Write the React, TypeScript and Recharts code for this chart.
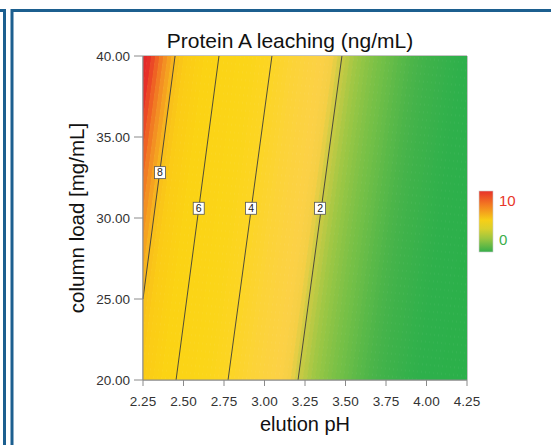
import React from 'react';
import {
  ComposedChart,
  XAxis,
  YAxis,
  ReferenceArea,
  ReferenceLine,
  ReferenceDot,
} from 'recharts';

// ---------- data ----------
const phDomain = [2.25, 4.25];
const loadDomain = [20, 40];
const phTicks = [2.25, 2.5, 2.75, 3.0, 3.25, 3.5, 3.75, 4.0, 4.25];
const loadTicks = [20, 25, 30, 35, 40];

// iso-bands of the response surface: every band leans by isoTilt pH per mg/mL
const isoTilt = 0.01325;
const profileStartPH = 2.0; // pH where the first band meets load = 20
const profileStepPH = 0.025;
// leaching (ng/mL) along load = 20 at pH = 2.000, 2.025, ... 4.250
const leachProfile = [
  11.0, 10.6, 9.9, 9.35, 8.9, 8.55, 8.3, 8.08, 7.9, 7.7,
  7.5, 7.3, 7.1, 6.9, 6.72, 6.55, 6.35, 6.18, 6.02, 5.87,
  5.7, 5.55, 5.4, 5.25, 5.1, 4.95, 4.8, 4.65, 4.5, 4.35,
  4.2, 4.03, 3.9, 3.76, 3.64, 3.52, 3.4, 3.29, 3.18, 3.07,
  2.97, 2.87, 2.77, 2.67, 2.57, 2.47, 2.35, 2.2, 2.05, 1.92,
  1.8, 1.68, 1.57, 1.47, 1.37, 1.28, 1.19, 1.1, 1.02, 0.95,
  0.88, 0.82, 0.76, 0.7, 0.65, 0.6, 0.55, 0.51, 0.47, 0.43,
  0.39, 0.36, 0.33, 0.3, 0.27, 0.24, 0.21, 0.19, 0.17, 0.15,
  0.13, 0.11, 0.09, 0.08, 0.06, 0.05, 0.04, 0.03, 0.02, 0.01,
  0.0,
];

const contourLevels = [8, 6, 4, 2];
const contourStartPH = [2.25, 2.454, 2.775, 3.207];
const contourStartLoad = [25, 20, 20, 20];
const contourEndPH = [2.448, 2.719, 3.046, 3.478];
const contourEndLoad = [40, 40, 40, 40];
const contourLabelPH = [2.355, 2.594, 2.917, 3.343];
const contourLabelLoad = [32.8, 30.6, 30.6, 30.6];

const legendMax = 10;
const legendMin = 0;

// ---------- colour scale (style) ----------
const colorStops: [number, string][] = [
  [0, '#2bb04a'],
  [0.15, '#2eb04b'],
  [0.47, '#45b34a'],
  [0.9, '#6dbe47'],
  [1.55, '#9fc744'],
  [2.0, '#cdcb44'],
  [2.3, '#f3cf45'],
  [2.6, '#fcd146'],
  [3.2, '#fcd33a'],
  [4.0, '#fcd524'],
  [5.0, '#fbd518'],
  [6.5, '#fbd314'],
  [7.5, '#fbcb16'],
  [7.9, '#f9c11a'],
  [8.15, '#f6ad1f'],
  [8.6, '#f38c23'],
  [9.3, '#ef6424'],
  [10.0, '#ea4426'],
  [10.8, '#e4292a'],
];

function hexToRgb(h: string) {
  return [parseInt(h.slice(1, 3), 16), parseInt(h.slice(3, 5), 16), parseInt(h.slice(5, 7), 16)];
}

function leachColor(v: number) {
  if (v <= colorStops[0][0]) return colorStops[0][1];
  for (let i = 1; i < colorStops.length; i++) {
    if (v <= colorStops[i][0]) {
      const [v0, c0] = colorStops[i - 1];
      const [v1, c1] = colorStops[i];
      const t = (v - v0) / (v1 - v0);
      const a = hexToRgb(c0);
      const b = hexToRgb(c1);
      const c = a.map((x, j) => Math.round(x + (b[j] - x) * t));
      return `rgb(${c[0]},${c[1]},${c[2]})`;
    }
  }
  return colorStops[colorStops.length - 1][1];
}

// band segments run slightly past the plot (clipped) so ends are clean
const bandLoadLo = loadDomain[0] - 1;
const bandLoadHi = loadDomain[1] + 1;
const bands = leachProfile.map((v, k) => {
  const ph20 = profileStartPH + k * profileStepPH;
  return {
    a: { x: ph20 + isoTilt * (bandLoadLo - loadDomain[0]), y: bandLoadLo },
    b: { x: ph20 + isoTilt * (bandLoadHi - loadDomain[0]), y: bandLoadHi },
    color: leachColor(v),
  };
});

const FONT = '"Liberation Sans", Arial, Helvetica, sans-serif';
const AXIS_GRAY = '#8a8a8a';

const legendStops = [
  { off: 0, c: '#e8312a' },
  { off: 0.23, c: '#f37c21' },
  { off: 0.48, c: '#f6cf17' },
  { off: 0.62, c: '#d9d02c' },
  { off: 0.78, c: '#9cc63f' },
  { off: 1, c: '#35ae4a' },
];

export default function App() {
  return (
    <div
      style={{
        position: 'absolute',
        left: 0,
        top: 0,
        width: 551,
        height: 445,
        background: '#fff',
        fontFamily: FONT,
        overflow: 'hidden',
      }}
    >
      <ComposedChart
        width={551}
        height={445}
        data={[]}
        margin={{ top: 56, right: 84, bottom: 35, left: 83 }}
      >
        <XAxis
          type="number"
          dataKey="ph"
          domain={phDomain}
          ticks={phTicks}
          allowDataOverflow
          height={30}
          tickSize={6}
          tickMargin={10}
          interval={0}
          tickFormatter={(v: number) => v.toFixed(2)}
          stroke={AXIS_GRAY}
          tick={{ fill: '#333', fontSize: 13.5, fontFamily: FONT }}
          label={{
            value: 'elution pH',
            position: 'bottom',
            offset: 7,
            style: { fill: '#111', fontSize: 20, fontFamily: FONT },
          }}
        />
        <YAxis
          type="number"
          dataKey="load"
          domain={loadDomain}
          ticks={loadTicks}
          allowDataOverflow
          width={60}
          tickSize={9}
          tickMargin={4}
          interval={0}
          tickFormatter={(v: number) => v.toFixed(2)}
          stroke={AXIS_GRAY}
          tick={{ fill: '#333', fontSize: 13.5, fontFamily: FONT }}
          label={{
            value: 'column load [mg/mL]',
            angle: -90,
            position: 'insideLeft',
            offset: -6,
            style: { fill: '#111', fontSize: 20.5, fontFamily: FONT, textAnchor: 'middle' },
          }}
        />
        {bands.map((band, i) => (
          <ReferenceLine
            key={'b' + i}
            segment={[band.a, band.b]}
            stroke={band.color}
            strokeWidth={4.6}
            ifOverflow="hidden"
          />
        ))}
        {contourLevels.map((lvl, i) => (
          <ReferenceLine
            key={'l' + lvl}
            segment={[
              { x: contourStartPH[i], y: contourStartLoad[i] },
              { x: contourEndPH[i], y: contourEndLoad[i] },
            ]}
            stroke="#3c3c3c"
            strokeWidth={0.9}
          />
        ))}
        <ReferenceArea
          x1={phDomain[0]}
          x2={phDomain[1]}
          y1={loadDomain[0]}
          y2={loadDomain[1]}
          fill="none"
          stroke={AXIS_GRAY}
          strokeWidth={1}
        />
        {contourLevels.map((lvl, i) => (
          <ReferenceDot
            key={'d' + lvl}
            x={contourLabelPH[i]}
            y={contourLabelLoad[i]}
            r={6}
            ifOverflow="visible"
            shape={(p: any) => (
              <g>
                <rect
                  x={p.cx - 5.5}
                  y={p.cy - 6}
                  width={11}
                  height={12}
                  fill="#fff"
                  stroke="#555"
                  strokeWidth={0.8}
                />
                <text
                  x={p.cx}
                  y={p.cy + 3.8}
                  textAnchor="middle"
                  fontSize={10.5}
                  fontFamily={FONT}
                  fill="#222"
                >
                  {lvl}
                </text>
              </g>
            )}
          />
        ))}
      </ComposedChart>
      <svg
        width={551}
        height={445}
        style={{ position: 'absolute', left: 0, top: 0, pointerEvents: 'none' }}
      >
        <defs>
          <linearGradient id="legendGrad" x1="0" y1="0" x2="0" y2="1">
            {legendStops.map((s) => (
              <stop key={s.off} offset={s.off} stopColor={s.c} />
            ))}
          </linearGradient>
        </defs>
        <path d="M0,10.5 H4.5 V445" fill="none" stroke="#1c5f8f" strokeWidth={3} />
        <path d="M12,445 V10.5 H551" fill="none" stroke="#1c5f8f" strokeWidth={3} />
        <text
          x={290}
          y={48}
          textAnchor="middle"
          fontSize={21}
          fontFamily={FONT}
          fill="#111"
        >
          Protein A leaching (ng/mL)
        </text>
        <rect x={479} y={191} width={14} height={61} fill="url(#legendGrad)" stroke="#ccc" strokeWidth={0.6} />
        <text x={499} y={206} fontSize={15} fontFamily={FONT} fill="#e8352a">
          {legendMax}
        </text>
        <text x={499} y={245} fontSize={15} fontFamily={FONT} fill="#3aae4a">
          {legendMin}
        </text>
      </svg>
    </div>
  );
}
